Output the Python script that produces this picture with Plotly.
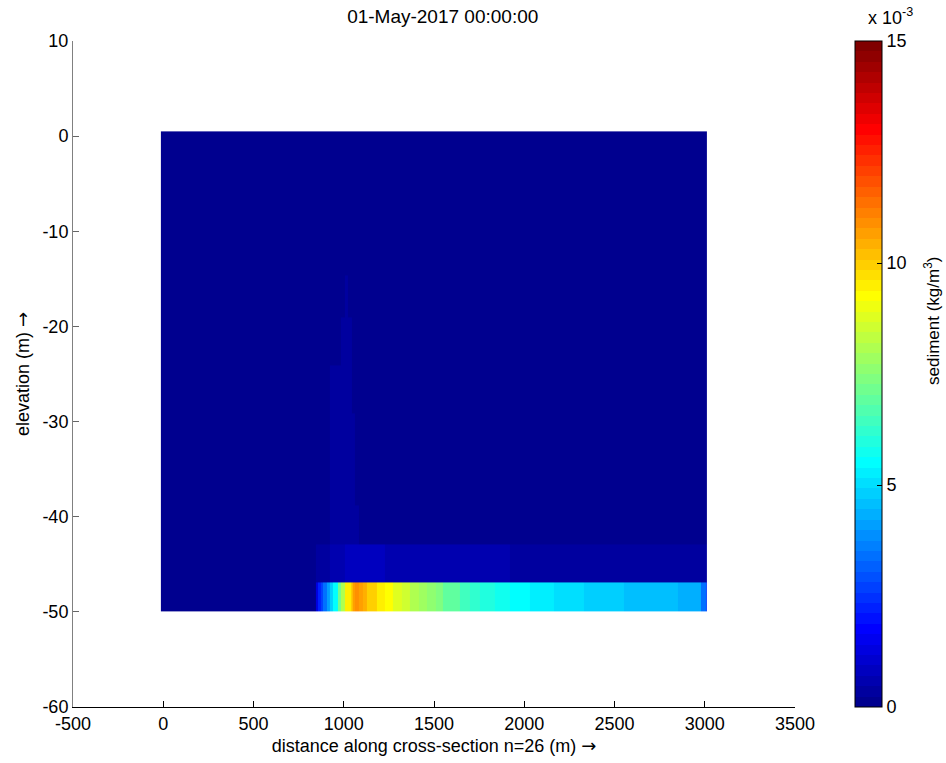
import numpy as np
import plotly.graph_objects as go

# ---------------- data ----------------
title_text = "01-May-2017 00:00:00"

# horizontal cell edges (m along cross-section)
x_edges = [-13, 843, 859, 873, 887, 905, 926, 942, 965, 987, 1009, 1025, 1037, 1046,
           1053, 1064, 1086, 1108, 1131, 1160, 1186, 1230, 1275, 1320, 1369, 1415,
           1463, 1510, 1552, 1600, 1646, 1700, 1757, 1840, 1923, 2034, 2162, 2328,
           2550, 2849, 2977, 3004, 3013]

# vertical layer edges (m), bottom to top
z_edges = [-50.0, -46.9, -42.9, -38.8, -34.0, -29.1, -24.1, -19.1, -14.6, -9.6, -4.6, 0.5]

# sediment concentration (x 1e-3 kg/m3) in the bottom layer, per column
bottom_layer = [0.05, 1.4, 2.3, 2.6, 3.3, 4.0, 4.8, 5.6, 7.1, 8.0, 9.4, 9.6, 9.9,
                10.2, 10.6, 10.8, 10.6, 10.4, 10.0, 9.9, 9.5, 9.3, 8.7, 8.5, 8.2,
                7.9, 7.5, 7.3, 7.0, 6.8, 6.5, 6.3, 6.0, 5.8, 5.5, 5.25, 5.0, 4.8,
                4.6, 4.4, 3.5, 2.6]

# second layer from bottom, per column
second_layer = [0.1, 0.35, 0.35, 0.35, 0.35, 0.35, 0.6, 0.6, 0.6, 0.6, 0.85, 0.85,
                0.85, 0.85, 0.85, 0.85, 0.85, 0.85, 0.85, 0.85, 0.85, 0.6, 0.6, 0.6,
                0.6, 0.6, 0.6, 0.6, 0.6, 0.6, 0.6, 0.6, 0.6, 0.6, 0.35, 0.35, 0.35,
                0.35, 0.35, 0.35, 0.35, 0.35]

# faint plume columns rising above the near-bed layers
plume_x0 = [926, 987, 1009, 1025, 1046, 1064]
plume_x1 = [987, 1009, 1025, 1046, 1064, 1086]
plume_top = [-24.1, -19.1, -14.6, -19.1, -29.1, -38.8]
plume_value = [0.35, 0.35, 0.35, 0.35, 0.35, 0.35]

background_value = 0.05

colorbar_ticks = [0, 5, 10, 15]
x_ticks = [-500, 0, 500, 1000, 1500, 2000, 2500, 3000, 3500]
y_ticks = [-60, -50, -40, -30, -20, -10, 0, 10]

# ---------------- grid assembly ----------------
nx = len(x_edges) - 1
nz = len(z_edges) - 1
xc = [(x_edges[i] + x_edges[i + 1]) / 2 for i in range(nx)]
Z = np.full((nz, nx), background_value)
Z[0, :] = bottom_layer
Z[1, :] = second_layer
for x0, x1, top, val in zip(plume_x0, plume_x1, plume_top, plume_value):
    for i in range(nx):
        if x0 <= xc[i] <= x1:
            for k in range(2, nz):
                if z_edges[k + 1] <= top + 0.05:
                    Z[k, i] = val

# MATLAB jet(64) as a stepped colorscale
def jet(m=64):
    n = int(np.ceil(m / 4))
    u = np.concatenate([np.arange(1, n + 1) / n, np.ones(n - 1), np.arange(n, 0, -1) / n])
    g = int(np.ceil(n / 2)) - (1 if m % 4 == 1 else 0) + np.arange(1, len(u) + 1)
    r = g + n
    b = g - n
    J = np.zeros((m, 3))
    for idx, val in zip(g, u):
        if 1 <= idx <= m:
            J[idx - 1, 1] = val
    for idx, val in zip(r, u):
        if 1 <= idx <= m:
            J[idx - 1, 0] = val
    for idx, val in zip(b, u):
        if 1 <= idx <= m:
            J[idx - 1, 2] = val
    return J

J = jet(64)
cscale = []
for k in range(64):
    c = "rgb(%d,%d,%d)" % tuple(int(round(v * 255)) for v in J[k])
    cscale.append([k / 64, c])
    cscale.append([(k + 1) / 64, c])

FONT = "Liberation Sans, Arial, sans-serif"
ARROW = '<span style="font-family:DejaVu Sans">→</span>'

# plot area geometry (px) used to place paper-referenced annotations
L, R, T, B = 73, 151, 41, 56
PW, PH = 946 - L - R, 763 - T - B

def px_x(px):
    return (px - L) / PW

def px_y(py):
    return 1 - (py - T) / PH

fig = go.Figure()
fig.add_trace(go.Heatmap(
    x=x_edges, y=z_edges, z=Z,
    colorscale=cscale, zmin=0, zmax=15,
    colorbar=dict(
        x=px_x(855), xanchor="left", xref="paper", xpad=0, ypad=0,
        y=1, yanchor="top", len=1, lenmode="fraction",
        thickness=27, outlinewidth=1, outlinecolor="black",
        ticks="inside", ticklen=5, tickcolor="black",
        tickvals=colorbar_ticks, ticktext=[str(t) for t in colorbar_ticks],
        tickfont=dict(family=FONT, size=18, color="black"),
    ),
    hovertemplate="x=%{x}<br>z=%{y}<br>c=%{z}e-3<extra></extra>",
))

fig.update_layout(
    width=946, height=763,
    margin=dict(l=L, r=R, t=T, b=B),
    paper_bgcolor="white", plot_bgcolor="white",
    font=dict(family=FONT, size=18, color="black"),
    title=dict(text=title_text, x=0.468, xanchor="center", y=0.978, yanchor="middle",
               font=dict(family=FONT, size=19, color="black")),
    xaxis=dict(range=[-500, 3500], tickvals=x_ticks,
               ticktext=[str(t) for t in x_ticks], ticks="inside", ticklen=6,
               tickcolor="black", showline=True, linecolor="black", linewidth=1,
               showgrid=False, zeroline=False, mirror=False,
               tickfont=dict(family=FONT, size=18),
               title=dict(text="distance along cross-section n=26 (m) " + ARROW, standoff=6,
                          font=dict(family=FONT, size=18))),
    yaxis=dict(range=[-60, 10], tickvals=y_ticks,
               ticktext=[str(t) for t in y_ticks], ticks="inside", ticklen=6,
               tickcolor="#666666", showline=True, linecolor="#808080", linewidth=1,
               showgrid=False, zeroline=False, mirror=False,
               tickfont=dict(family=FONT, size=18),
               title=dict(text="elevation (m) " + ARROW, standoff=8,
                          font=dict(family=FONT, size=18))),
    annotations=[
        dict(text="x 10<sup>-3</sup>", x=px_x(866), y=px_y(30), xref="paper", yref="paper",
             xanchor="left", yanchor="bottom", showarrow=False,
             font=dict(family=FONT, size=18, color="black")),
        dict(text="sediment (kg/m<sup>3</sup>)", x=px_x(932), y=px_y(321),
             xref="paper", yref="paper", xanchor="center", yanchor="middle",
             textangle=-90, showarrow=False,
             font=dict(family=FONT, size=17, color="black")),
    ],
)

fig.write_html("out.html")
